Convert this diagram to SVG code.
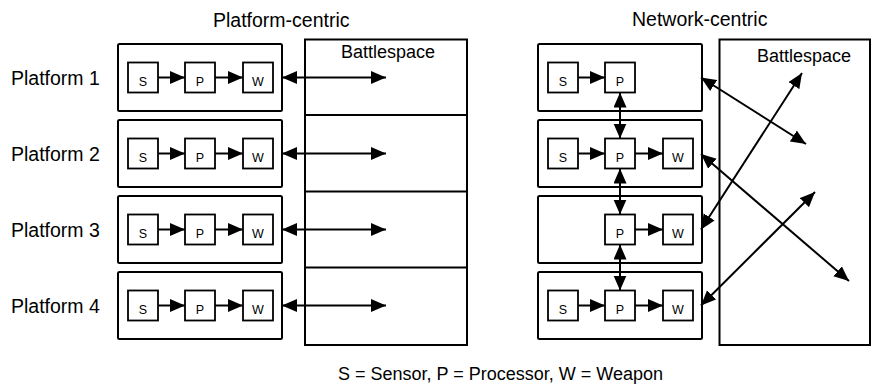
<svg xmlns="http://www.w3.org/2000/svg" width="873" height="385" viewBox="0 0 873 385">
<style>
text{font-family:"Liberation Sans",Arial,Helvetica,sans-serif;fill:#000}
.t{font-size:19.5px}
.bs{font-size:18px}
.c{font-size:18px}
.k{font-size:12.5px;text-anchor:middle}
.o{fill:#fff;stroke:#000;stroke-width:2}
.i{fill:#fff;stroke:#000;stroke-width:1.8}
.a{stroke:#000;stroke-width:2;fill:none;marker-end:url(#h)}
.d{stroke:#000;stroke-width:2;fill:none;marker-end:url(#h);marker-start:url(#h)}
</style>
<defs>
<marker id="h" markerUnits="userSpaceOnUse" markerWidth="16" markerHeight="14" refX="15" refY="6.5" orient="auto-start-reverse" viewBox="0 0 16 14">
<path d="M0,0 L15,6.5 L0,13 z" fill="#000"/>
</marker>
</defs>

<text class="t" x="213" y="27">Platform-centric</text>
<text class="t" x="632" y="26">Network-centric</text>

<g id="battlespace-left">
<rect class="o" x="305" y="39.5" width="162" height="305.5"/>
<line x1="305" y1="115" x2="467" y2="115" stroke="#000" stroke-width="2"/>
<line x1="305" y1="191.5" x2="467" y2="191.5" stroke="#000" stroke-width="2"/>
<line x1="305" y1="267.5" x2="467" y2="267.5" stroke="#000" stroke-width="2"/>
<text class="bs" x="341" y="57.5">Battlespace</text>
</g>

<g id="battlespace-right">
<rect class="o" x="719.5" y="39.5" width="150.5" height="305.5"/>
<text class="bs" x="757" y="62">Battlespace</text>
</g>

<g id="platform-1">
<text class="t" x="11" y="84.5">Platform 1</text>
<rect class="o" x="118" y="44" width="164" height="67" rx="1.5"/>
<rect class="i" x="128" y="62.5" width="30" height="30"/><text class="k" x="143" y="86">S</text>
<rect class="i" x="185" y="62.5" width="30" height="30"/><text class="k" x="200" y="86">P</text>
<rect class="i" x="243" y="62.5" width="30" height="30"/><text class="k" x="258" y="86">W</text>
</g>
<g id="platform-2">
<text class="t" x="11" y="160.5">Platform 2</text>
<rect class="o" x="118" y="120" width="164" height="67" rx="1.5"/>
<rect class="i" x="128" y="138.5" width="30" height="30"/><text class="k" x="143" y="162">S</text>
<rect class="i" x="185" y="138.5" width="30" height="30"/><text class="k" x="200" y="162">P</text>
<rect class="i" x="243" y="138.5" width="30" height="30"/><text class="k" x="258" y="162">W</text>
</g>
<g id="platform-3">
<text class="t" x="11" y="236.5">Platform 3</text>
<rect class="o" x="118" y="196" width="164" height="67" rx="1.5"/>
<rect class="i" x="128" y="214.5" width="30" height="30"/><text class="k" x="143" y="238">S</text>
<rect class="i" x="185" y="214.5" width="30" height="30"/><text class="k" x="200" y="238">P</text>
<rect class="i" x="243" y="214.5" width="30" height="30"/><text class="k" x="258" y="238">W</text>
</g>
<g id="platform-4">
<text class="t" x="11" y="312.5">Platform 4</text>
<rect class="o" x="118" y="272" width="164" height="67" rx="1.5"/>
<rect class="i" x="128" y="290.5" width="30" height="30"/><text class="k" x="143" y="314">S</text>
<rect class="i" x="185" y="290.5" width="30" height="30"/><text class="k" x="200" y="314">P</text>
<rect class="i" x="243" y="290.5" width="30" height="30"/><text class="k" x="258" y="314">W</text>
</g>

<g id="net-platform-1">
<rect class="o" x="538" y="44" width="164" height="67" rx="1.5"/>
<rect class="i" x="548" y="62.5" width="30" height="30"/><text class="k" x="563" y="86">S</text>
<rect class="i" x="605" y="62.5" width="30" height="30"/><text class="k" x="620" y="86">P</text>
</g>
<g id="net-platform-2">
<rect class="o" x="538" y="120" width="164" height="67" rx="1.5"/>
<rect class="i" x="548" y="138.5" width="30" height="30"/><text class="k" x="563" y="162">S</text>
<rect class="i" x="605" y="138.5" width="30" height="30"/><text class="k" x="620" y="162">P</text>
<rect class="i" x="663" y="138.5" width="30" height="30"/><text class="k" x="678" y="162">W</text>
</g>
<g id="net-platform-3">
<rect class="o" x="538" y="196" width="164" height="67" rx="1.5"/>
<rect class="i" x="605" y="214.5" width="30" height="30"/><text class="k" x="620" y="238">P</text>
<rect class="i" x="663" y="214.5" width="30" height="30"/><text class="k" x="678" y="238">W</text>
</g>
<g id="net-platform-4">
<rect class="o" x="538" y="272" width="164" height="67" rx="1.5"/>
<rect class="i" x="548" y="290.5" width="30" height="30"/><text class="k" x="563" y="314">S</text>
<rect class="i" x="605" y="290.5" width="30" height="30"/><text class="k" x="620" y="314">P</text>
<rect class="i" x="663" y="290.5" width="30" height="30"/><text class="k" x="678" y="314">W</text>
</g>

<g id="connectors">
<line class="a" x1="158" y1="77.5" x2="185" y2="77.5"/>
<line class="a" x1="215" y1="77.5" x2="243" y2="77.5"/>
<line class="a" x1="158" y1="153.5" x2="185" y2="153.5"/>
<line class="a" x1="215" y1="153.5" x2="243" y2="153.5"/>
<line class="a" x1="158" y1="229.5" x2="185" y2="229.5"/>
<line class="a" x1="215" y1="229.5" x2="243" y2="229.5"/>
<line class="a" x1="158" y1="305.5" x2="185" y2="305.5"/>
<line class="a" x1="215" y1="305.5" x2="243" y2="305.5"/>
<line class="d" x1="282" y1="77.5" x2="386" y2="77.5"/>
<line class="d" x1="282" y1="153.5" x2="386" y2="153.5"/>
<line class="d" x1="282" y1="229.5" x2="386" y2="229.5"/>
<line class="d" x1="282" y1="305.5" x2="386" y2="305.5"/>

<line class="a" x1="578" y1="77.5" x2="605" y2="77.5"/>
<line class="a" x1="578" y1="153.5" x2="605" y2="153.5"/>
<line class="a" x1="635" y1="153.5" x2="663" y2="153.5"/>
<line class="a" x1="635" y1="229.5" x2="663" y2="229.5"/>
<line class="a" x1="578" y1="305.5" x2="605" y2="305.5"/>
<line class="a" x1="635" y1="305.5" x2="663" y2="305.5"/>
<line class="d" x1="620" y1="92.5" x2="620" y2="138.5"/>
<line class="d" x1="620" y1="168.5" x2="620" y2="214.5"/>
<line class="d" x1="620" y1="244.5" x2="620" y2="290.5"/>

<line class="d" x1="701" y1="77.5" x2="806" y2="144"/>
<line class="d" x1="701" y1="154" x2="849" y2="281"/>
<line class="d" x1="701" y1="229.5" x2="802" y2="73"/>
<line class="d" x1="701" y1="305.5" x2="815" y2="192"/>
</g>

<text class="c" x="338" y="380">S = Sensor, P = Processor, W = Weapon</text>
</svg>
